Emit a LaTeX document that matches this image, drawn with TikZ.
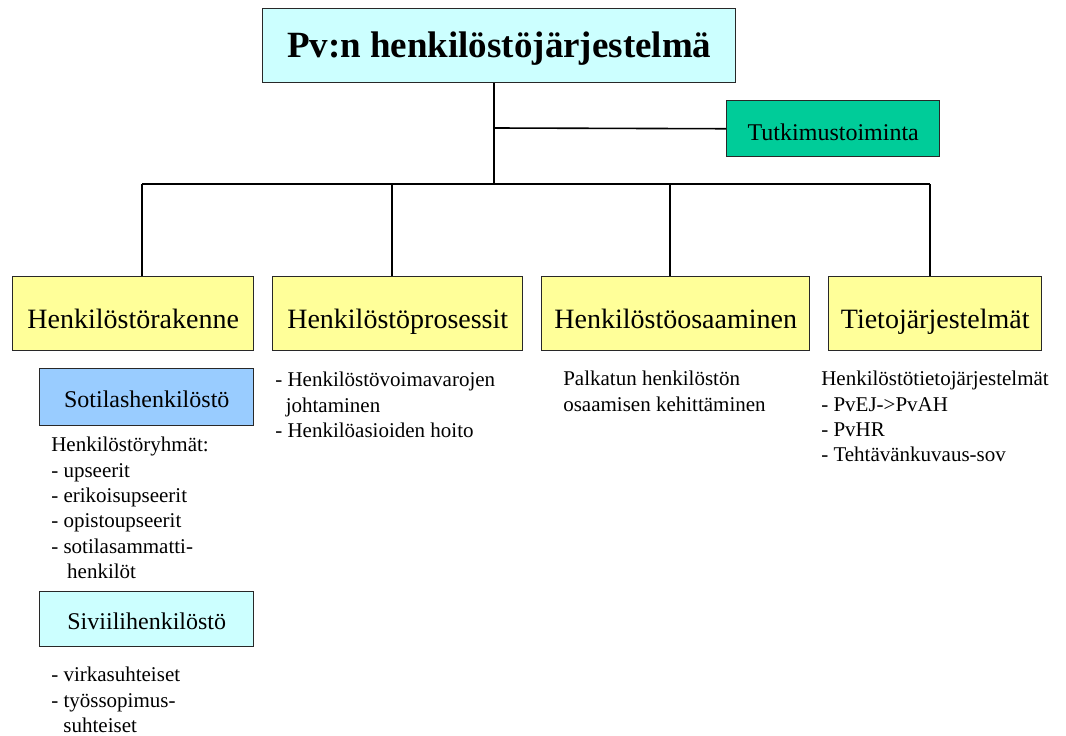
\documentclass[tikz,border=0pt]{standalone}
\usepackage{fontspec}
\setmainfont{Liberation Serif}
\usepackage{tikz}
\definecolor{sky}{RGB}{204, 255, 255}
\definecolor{straw}{RGB}{255, 255, 153}
\definecolor{jade}{RGB}{0, 204, 153}
\definecolor{steel}{RGB}{153, 204, 255}
\definecolor{edge}{RGB}{40, 40, 40}

\begin{document}
\begin{tikzpicture}[x=0.75pt, y=-0.75pt,
  conn/.style={line width=1.2pt, black},
  box/.style={draw=edge, line width=1.1pt, inner sep=0pt, anchor=north west, text depth=0pt},
  head/.style={box, fill=sky, minimum width=354.75pt, minimum height=55.5pt,
    text height=18pt, font=\bfseries\fontsize{27.75}{32}\selectfont},
  area/.style={box, fill=straw, minimum height=55.5pt, text height=22.5pt,
    font=\fontsize{21}{25}\selectfont},
  sub/.style={box, minimum width=160.5pt, text height=16pt, font=\fontsize{18}{21}\selectfont},
  list/.style={inner sep=0pt, anchor=north west, align=left, font=\fontsize{15.75}{19}\selectfont}]

  \path[fill=white] (0, 0) rectangle (1066, 735);

  % top of the tree
  \node[head] (title) at (262, 8) {Pv:n henkilöstöjärjestelmä};
  \node[box, fill=jade, minimum width=159.75pt, minimum height=42pt, text height=18pt,
    font=\fontsize{18}{21}\selectfont] (tutk) at (726, 100) {Tutkimustoiminta};

  % the four areas
  \node[area, minimum width=180.75pt] (rakenne) at (12, 276) {Henkilöstörakenne};
  \node[area, minimum width=187.5pt] (prosessit) at (272, 276) {Henkilöstöprosessit};
  \node[area, minimum width=201pt] (osaaminen) at (541, 276) {Henkilöstöosaaminen};
  \node[area, minimum width=159.75pt] (tieto) at (828, 276) {Tietojärjestelmät};

  % connectors
  \coordinate (trunk) at (494, 184);
  \coordinate (split) at (494, 128);
  \coordinate (d1) at (142, 184);
  \coordinate (d2) at (392, 184);
  \coordinate (d3) at (670, 184);
  \coordinate (d4) at (930, 184);
  \draw[conn] (trunk |- title.south) -- (trunk);
  \draw[conn] (split) -- (tutk.west);
  \draw[conn] (d1) -- (d4);
  \foreach \d/\b in {d1/rakenne, d2/prosessit, d3/osaaminen, d4/tieto}
    \draw[conn] (\d) -- (\d |- \b.north);

  % personnel groups
  \node[sub, fill=steel, minimum height=42.75pt] (sotilas) at (39, 368) {Sotilashenkilöstö};
  \node[list] (ryhmat) at (51, 437) {Henkilöstöryhmät:\\- upseerit\\- erikoisupseerit\\- opistoupseerit\\- sotilasammatti-\\\hspace*{0.76em}henkilöt};
  \node[sub, fill=sky, minimum height=41.25pt] (siviili) at (39, 591) {Siviilihenkilöstö};
  \node[list] (suhteet) at (51, 667) {- virkasuhteiset\\- työssopimus-\\\hspace*{0.58em}suhteiset};

  % details under the areas
  \node[list] (prosessilista) at (275, 372) {- Henkilöstövoimavarojen\\\hspace*{0.5em}johtaminen\\- Henkilöasioiden hoito};
  \node[list] (kehitys) at (563, 371) {Palkatun henkilöstön\\osaamisen kehittäminen};
  \node[list] (jarjestelmat) at (821, 371) {Henkilöstötietojärjestelmät\\- PvEJ->PvAH\\- PvHR\\- Tehtävänkuvaus-sov};

\end{tikzpicture}
\end{document}
